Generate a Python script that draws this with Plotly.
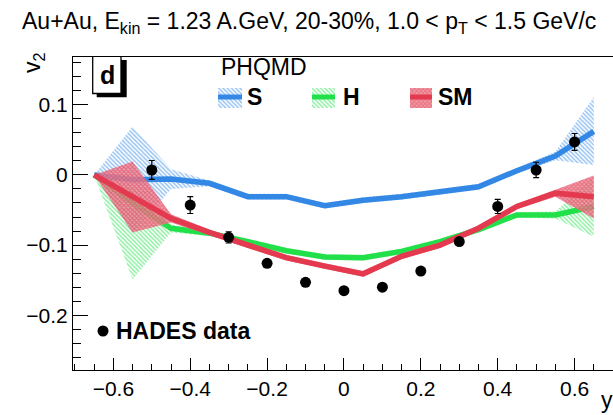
import plotly.graph_objects as go

# ---------------- data ----------------
x_nodes = [-0.65, -0.55, -0.45, -0.35, -0.25, -0.15, -0.05, 0.05, 0.15, 0.25, 0.35, 0.45, 0.55, 0.65]

s_mid = [0.0, -0.007, -0.006, -0.012, -0.031, -0.031, -0.044, -0.036, -0.031, -0.024, -0.017, 0.006, 0.027, 0.062]
s_hi = [0.0, 0.069, 0.008, -0.008, -0.027, -0.027, -0.040, -0.032, -0.027, -0.020, -0.013, 0.010, 0.033, 0.111]
s_lo = [0.0, -0.083, -0.020, -0.016, -0.035, -0.035, -0.048, -0.040, -0.035, -0.028, -0.021, 0.002, 0.021, 0.014]

g_mid = [0.0, -0.040, -0.076, -0.083, -0.095, -0.108, -0.117, -0.118, -0.109, -0.095, -0.078, -0.057, -0.057, -0.045]
g_hi = [0.0, -0.020, -0.071, -0.079, -0.091, -0.104, -0.113, -0.114, -0.105, -0.091, -0.074, -0.053, -0.052, -0.002]
g_lo = [0.0, -0.149, -0.082, -0.087, -0.099, -0.112, -0.121, -0.122, -0.113, -0.099, -0.082, -0.061, -0.062, -0.088]

r_mid = [0.0, -0.031, -0.062, -0.082, -0.100, -0.118, -0.130, -0.141, -0.116, -0.100, -0.076, -0.045, -0.026, -0.031]
r_hi = [0.0, 0.019, -0.056, -0.078, -0.096, -0.114, -0.126, -0.137, -0.112, -0.096, -0.072, -0.041, -0.021, -0.001]
r_lo = [0.0, -0.082, -0.068, -0.086, -0.104, -0.122, -0.134, -0.145, -0.120, -0.104, -0.080, -0.049, -0.031, -0.062]

hades_x = [-0.5, -0.4, -0.3, -0.2, -0.1, 0.0, 0.1, 0.2, 0.3, 0.4, 0.5, 0.6]
hades_y = [0.007, -0.043, -0.089, -0.126, -0.153, -0.165, -0.160, -0.137, -0.095, -0.045, 0.007, 0.047]
hades_err = [0.0135, 0.012, 0.008, 0.004, 0.004, 0.004, 0.004, 0.004, 0.005, 0.010, 0.011, 0.012]

model_names = ["S", "H", "SM"]
x_ticks = [-0.6, -0.4, -0.2, 0.0, 0.2, 0.4, 0.6]
y_ticks = [-0.2, -0.1, 0.0, 0.1]

# ---------------- style ----------------
FONT = "Liberation Sans, Arial, sans-serif"
BLUE = "#3388e6"
GREEN = "#22e04a"
RED = "#e33a4f"

models = [
    (model_names[0], s_mid, s_lo, s_hi, BLUE,
     dict(shape="\\", size=3, solidity=0.5, fgcolor=BLUE, bgcolor="rgba(255,255,255,0)")),
    (model_names[1], g_mid, g_lo, g_hi, GREEN,
     dict(shape="\\", size=3, solidity=0.5, fgcolor=GREEN, bgcolor="rgba(255,255,255,0)")),
    (model_names[2], r_mid, r_lo, r_hi, RED,
     dict(shape="x", size=3, solidity=0.55, fgcolor=RED, bgcolor="rgba(236,135,150,0.8)")),
]

fig = go.Figure()

for name, mid, lo, hi, col, pat in models:
    fig.add_trace(go.Scatter(
        x=x_nodes + x_nodes[::-1], y=hi + lo[::-1],
        fill="toself", mode="lines", line=dict(width=0, color=col),
        fillcolor="rgba(0,0,0,0)", fillpattern=pat,
        hoverinfo="skip", showlegend=False))
    fig.add_trace(go.Scatter(
        x=x_nodes, y=mid, mode="lines", line=dict(color=col, width=5.5),
        name=name, showlegend=False))

fig.add_trace(go.Scatter(
    x=hades_x, y=hades_y, mode="markers",
    marker=dict(color="black", size=11),
    error_y=dict(type="data", array=hades_err, color="black", thickness=1.2, width=3),
    name="HADES data", showlegend=False))

# ---------------- legend / decorations on a pixel overlay ----------------
sw = [(218, 242, BLUE, models[0][5]), (312, 335, GREEN, models[1][5]), (410, 432, RED, models[2][5])]
for x0, x1, col, pat in sw:
    fig.add_trace(go.Scatter(
        x=[x0, x1, x1, x0, x0], y=[88, 88, 108, 108, 88], xaxis="x2", yaxis="y2",
        fill="toself", mode="lines", line=dict(width=0, color=col),
        fillcolor="rgba(0,0,0,0)", fillpattern=pat, hoverinfo="skip", showlegend=False))
    fig.add_trace(go.Scatter(
        x=[x0, x1], y=[97, 97], xaxis="x2", yaxis="y2", mode="lines",
        line=dict(color=col, width=5), hoverinfo="skip", showlegend=False))

fig.add_trace(go.Scatter(
    x=[103], y=[331], xaxis="x2", yaxis="y2", mode="markers",
    marker=dict(color="black", size=11), hoverinfo="skip", showlegend=False))

shapes = [
    dict(type="rect", xref="x2", yref="y2", x0=96.7, x1=126.7, y0=60, y1=97.3,
         fillcolor="black", line=dict(width=0)),
    dict(type="rect", xref="x2", yref="y2", x0=92.7, x1=121, y0=56, y1=93.5,
         fillcolor="white", line=dict(color="black", width=1.3)),
]

L, T, W, H = 73.0, 57.0, 540.0, 313.0


def px(xp):
    return (xp - L) / W


def py(yp):
    return (T + H - yp) / H


annotations = [
    dict(text="Au+Au, E<sub>kin</sub> = 1.23 A.GeV, 20-30%, 1.0 &lt; p<sub>T</sub> &lt; 1.5 GeV/c",
         xref="paper", yref="paper", x=px(309), y=py(23), xanchor="center", yanchor="middle",
         showarrow=False, font=dict(family=FONT, size=23, color="black")),
    dict(text="v<sub>2</sub>", xref="paper", yref="paper", x=px(33), y=py(63), textangle=-90,
         xanchor="center", yanchor="middle",
         showarrow=False, font=dict(family=FONT, size=23, color="black")),
    dict(text="y", xref="paper", yref="paper", x=px(607), y=py(400), showarrow=False,
         xanchor="center", yanchor="middle",
         font=dict(family=FONT, size=23, color="black")),
    dict(text="PHQMD", xref="x2", yref="y2", x=219, y=67, xanchor="left", showarrow=False,
         font=dict(family=FONT, size=23, color="black")),
    dict(text="<b>d</b>", xref="x2", yref="y2", x=107, y=75, showarrow=False,
         font=dict(family=FONT, size=25, color="black")),
    dict(text="<b>HADES data</b>", xref="x2", yref="y2", x=114, y=331, xanchor="left",
         showarrow=False, font=dict(family=FONT, size=23, color="black")),
]
for lx, nm in zip([245, 340.5, 436], model_names):
    annotations.append(dict(text="<b>" + nm + "</b>", xref="x2", yref="y2", x=lx, y=97,
                            xanchor="left", showarrow=False,
                            font=dict(family=FONT, size=23, color="black")))

fig.update_layout(
    width=613, height=415,
    margin=dict(l=73, r=0, t=57, b=45),
    paper_bgcolor="white", plot_bgcolor="white",
    font=dict(family=FONT, size=21, color="black"),
    showlegend=False,
    shapes=shapes, annotations=annotations,
    xaxis=dict(range=[-0.705, 0.7], tickvals=x_ticks, ticks="inside", ticklen=12,
               tickcolor="black", showline=True, linecolor="black", linewidth=1,
               mirror=True, showgrid=False, zeroline=False,
               tickfont=dict(family=FONT, size=21, color="black"),
               minor=dict(dtick=0.05, tick0=0, ticks="inside", ticklen=6, tickcolor="black")),
    yaxis=dict(range=[-0.278, 0.168], tickvals=y_ticks, ticks="inside", ticklen=15,
               tickcolor="black", showline=True, linecolor="black", linewidth=1,
               mirror=True, showgrid=False, zeroline=False,
               tickfont=dict(family=FONT, size=21, color="black"),
               minor=dict(dtick=0.02, tick0=0, ticks="inside", ticklen=8, tickcolor="black")),
    xaxis2=dict(overlaying="x", range=[73, 613], visible=False, fixedrange=True),
    yaxis2=dict(overlaying="y", range=[370, 57], visible=False, fixedrange=True),
)

fig.write_html("out.html")
